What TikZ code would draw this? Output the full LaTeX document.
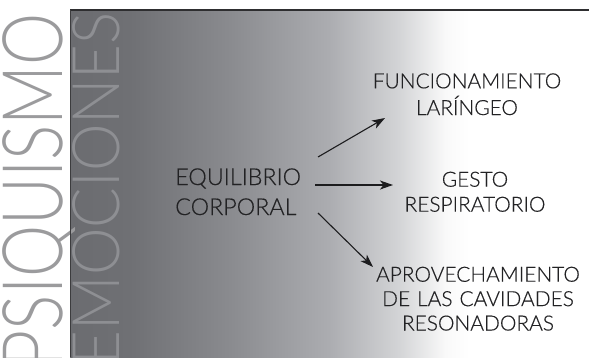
\documentclass[tikz,border=0pt]{standalone}
\usepackage{fontspec}
\usepackage{graphicx}
\usetikzlibrary{arrows.meta}
\newfontfamily\lightfont{Lato Light}
\newfontfamily\labelfont{Lato Light}[FakeBold=0.35]
\definecolor{g0}{RGB}{107,108,112}
\definecolor{g1}{RGB}{111,112,116}
\definecolor{g2}{RGB}{138,139,143}
\definecolor{g3}{RGB}{172,173,177}
\definecolor{g4}{RGB}{212,213,215}
\definecolor{g5}{RGB}{249,249,249}
\definecolor{txt}{RGB}{34,34,36}
\definecolor{arrowc}{RGB}{28,28,30}
\definecolor{psic}{RGB}{155,155,157}
\definecolor{emoc}{RGB}{142,143,147}
\definecolor{topline}{RGB}{46,46,48}
\definecolor{leftline}{RGB}{60,60,62}
\begin{document}
\begin{tikzpicture}[x=1pt,y=-1pt,
  lbl/.style={font=\labelfont\fontsize{20.9}{25}\selectfont, text=txt, align=center, text width=230pt, inner sep=0, anchor=base},
  eqlbl/.style={font=\labelfont\fontsize{23.3}{30}\selectfont, text=txt, align=left, text width=150pt, inner sep=0, anchor=base west},
  arr/.style={-{Stealth[length=13pt,width=9pt,inset=3.5pt]}, line width=1.1pt, draw=arrowc},
  bigword/.style={rotate=90, anchor=base east, inner sep=0}]
\useasboundingbox (0,0) rectangle (589,357);
\clip (0,0) rectangle (589,357);
\fill[white] (0,0) rectangle (589,357);
% background gradient
\shade[left color=g0,right color=g1] (70,10) rectangle (130.5,357);
\shade[left color=g1,right color=g2] (130,10) rectangle (230.5,357);
\shade[left color=g2,right color=g3] (230,10) rectangle (330.5,357);
\shade[left color=g3,right color=g4] (330,10) rectangle (400.5,357);
\shade[left color=g4,right color=g5] (400,10) rectangle (445.5,357);
\shade[left color=g5,right color=white] (445,10) rectangle (470,357);
% vertical words
\node[bigword, text=emoc, font=\lightfont\fontsize{65.6}{66}\selectfont] (emo) at (119,12) {\resizebox{353pt}{\height}{EMOCIONES}};
\node[bigword, text=psic, font=\lightfont\fontsize{83.7}{84}\selectfont] (psi) at (62,13) {\resizebox{355pt}{\height}{PSIQUISMO}};
% borders
\coordinate (tl) at (70,10);
\coordinate (tr) at (589,10);
\coordinate (bl) at (70,357);
\draw[topline, line width=1.6pt] (tl) -- (tr);
\draw[leftline, line width=1pt] (tl) -- (bl);
% labels
\node[eqlbl] (eq) at (175,185) {EQUILIBRIO\\[0pt]CORPORAL};
\node[lbl, font=\labelfont\fontsize{20.9}{26.7}\selectfont] (lar) at (467,88.3) {FUNCIONAMIENTO\\LARÍNGEO};
\node[lbl] (resp) at (475,186.7) {GESTO\\RESPIRATORIO};
\node[lbl, font=\labelfont\fontsize{20.9}{24.4}\selectfont] (cav) at (478,281.7) {APROVECHAMIENTO\\DE LAS CAVIDADES\\RESONADORAS};
% arrows
\coordinate (a1s) at (318,157);
\coordinate (a1e) at (385,118);
\coordinate (a2s) at (315,185);
\coordinate (a2e) at (393,185);
\coordinate (a3s) at (318,213);
\coordinate (a3e) at (373,267);
\draw[arr] (a1s) -- (a1e);
\draw[arr] (a2s) -- (a2e);
\draw[arr] (a3s) -- (a3e);
\end{tikzpicture}
\end{document}
